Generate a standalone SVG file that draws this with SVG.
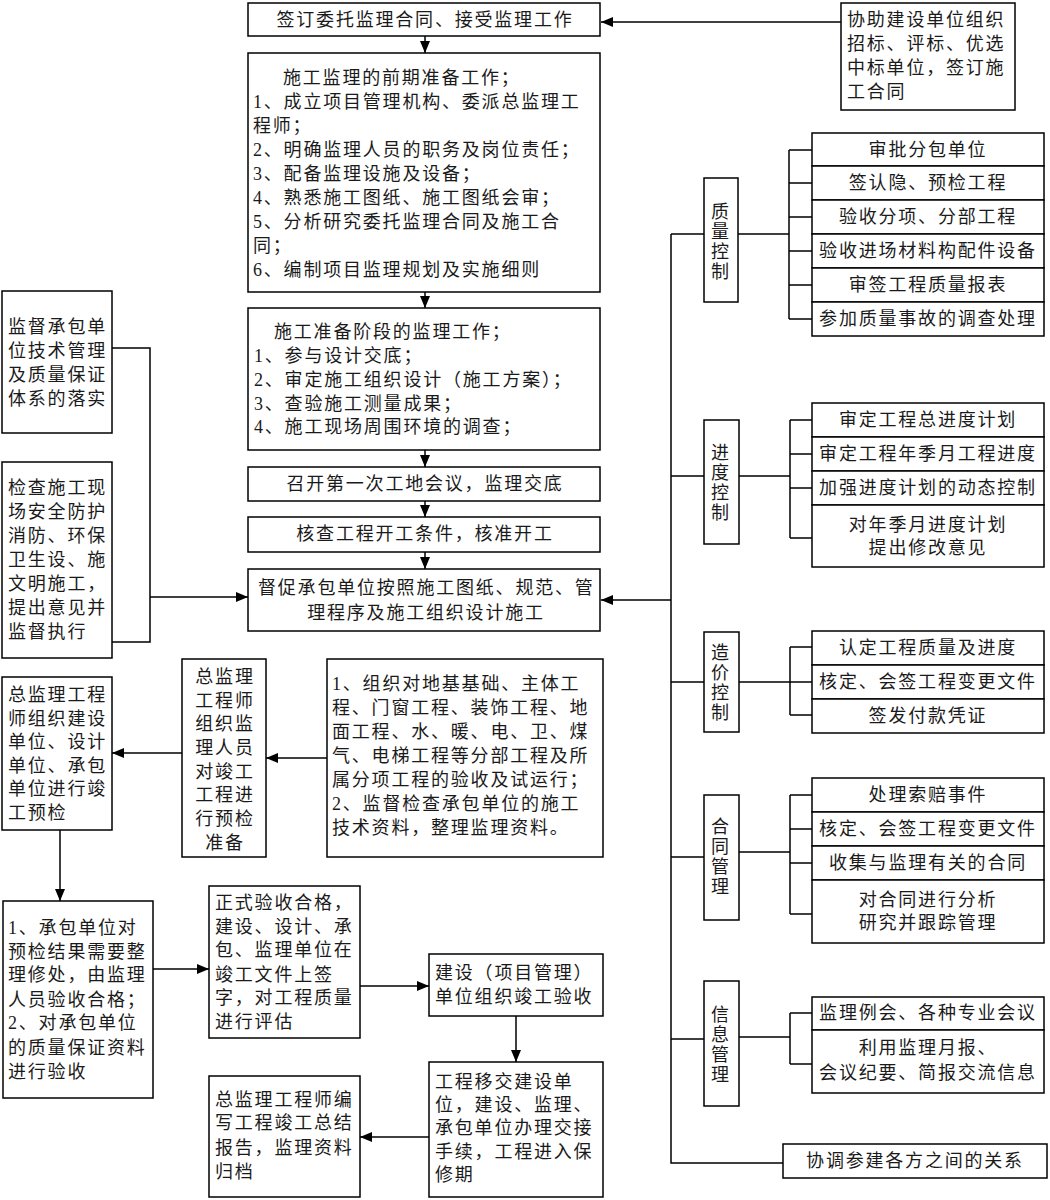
<svg xmlns="http://www.w3.org/2000/svg" width="1050" height="1200" viewBox="0 0 1050 1200">
<style>
.b{fill:#fff;stroke:#000;stroke-width:1.5}
text{font-family:"Liberation Serif","Noto Sans CJK SC",serif;font-size:18px;fill:#1a1a1a;letter-spacing:1.8px}
.c{text-anchor:middle}
.l{fill:none;stroke:#000;stroke-width:1.5}
</style>
<defs>
<marker id="a" markerUnits="userSpaceOnUse" markerWidth="12" markerHeight="10" refX="12" refY="5" orient="auto"><path d="M0,0L12,5L0,10z" fill="#000"/></marker>
</defs>
<rect width="1050" height="1200" fill="#fff"/>
<g id="connectors">
<path class="l" marker-end="url(#a)" d="M425,36V53"/>
<path class="l" marker-end="url(#a)" d="M841,22H601"/>
<path class="l" marker-end="url(#a)" d="M425,292V308"/>
<path class="l" marker-end="url(#a)" d="M425,450V467"/>
<path class="l" marker-end="url(#a)" d="M425,501V517"/>
<path class="l" marker-end="url(#a)" d="M425,552V569"/>
<path class="l" d="M112,348H150V642H112"/>
<path class="l" marker-end="url(#a)" d="M150,597H248"/>
<path class="l" marker-end="url(#a)" d="M671,600H601"/>
<path class="l" d="M671,234V1163H783"/>
<path class="l" d="M671,234H704M738,234H789M789,150V319M789,150H812M789,183H812M789,217H812M789,251H812M789,285H812M789,319H812"/>
<path class="l" d="M671,476H704M739,476H790M790,420V538M790,420H812M790,454H812M790,488H812M790,538H812"/>
<path class="l" d="M671,682H704M739,682H790M790,647V715M790,647H812M790,682H812M790,715H812"/>
<path class="l" d="M671,857H704M739,852H790M790,795V914M790,795H812M790,829H812M790,863H812M790,914H812"/>
<path class="l" d="M671,1039H704M739,1037H790M790,1013V1064M790,1013H812M790,1064H812"/>
<path class="l" marker-end="url(#a)" d="M182,753H112"/>
<path class="l" marker-end="url(#a)" d="M327,758H266"/>
<path class="l" marker-end="url(#a)" d="M60,830V901"/>
<path class="l" marker-end="url(#a)" d="M153,969H209"/>
<path class="l" marker-end="url(#a)" d="M360,986H429"/>
<path class="l" marker-end="url(#a)" d="M516,1016V1062"/>
<path class="l" marker-end="url(#a)" d="M429,1137H360"/>
</g>
<g id="n-sign"><rect class="b" x="248" y="3" width="352" height="33"/><text class="c" x="425" y="26">签订委托监理合同、接受监理工作</text></g>
<g id="n-prep"><rect class="b" x="248" y="53" width="352" height="239"/>
<text x="283" y="84">施工监理的前期准备工作；</text>
<text x="253" y="108">1、成立项目管理机构、委派总监理工</text>
<text x="253" y="132">程师；</text>
<text x="253" y="156">2、明确监理人员的职务及岗位责任；</text>
<text x="253" y="180">3、配备监理设施及设备；</text>
<text x="253" y="204">4、熟悉施工图纸、施工图纸会审；</text>
<text x="253" y="228">5、分析研究委托监理合同及施工合</text>
<text x="253" y="252">同；</text>
<text x="253" y="276">6、编制项目监理规划及实施细则</text></g>
<g id="n-assist"><rect class="b" x="841" y="3" width="174" height="107"/>
<text x="847" y="26">协助建设单位组织</text><text x="847" y="50">招标、评标、优选</text><text x="847" y="74">中标单位，签订施</text><text x="847" y="98">工合同</text></g>
<g id="n-stage"><rect class="b" x="248" y="308" width="352" height="142"/>
<text x="274" y="338">施工准备阶段的监理工作；</text>
<text x="254" y="362">1、参与设计交底；</text>
<text x="254" y="386">2、审定施工组织设计（施工方案）；</text>
<text x="254" y="410">3、查验施工测量成果；</text>
<text x="254" y="433">4、施工现场周围环境的调查；</text></g>
<g id="n-meet"><rect class="b" x="248" y="467" width="352" height="34"/><text class="c" x="425" y="490">召开第一次工地会议，监理交底</text></g>
<g id="n-check"><rect class="b" x="248" y="517" width="352" height="35"/><text class="c" x="425" y="540">核查工程开工条件，核准开工</text></g>
<g id="n-urge"><rect class="b" x="248" y="569" width="352" height="62"/>
<text x="258" y="594">督促承包单位按照施工图纸、规范、管</text><text class="c" x="426" y="619">理程序及施工组织设计施工</text></g>
<g id="n-left1"><rect class="b" x="2" y="291" width="110" height="142"/>
<text x="8" y="333">监督承包单</text><text x="8" y="357">位技术管理</text><text x="8" y="381">及质量保证</text><text x="8" y="405">体系的落实</text></g>
<g id="n-left2"><rect class="b" x="2" y="462" width="110" height="196"/>
<text x="8" y="494">检查施工现</text><text x="8" y="518">场安全防护</text><text x="8" y="542">消防、环保</text><text x="8" y="566">卫生设、施</text><text x="8" y="590">文明施工，</text><text x="8" y="614">提出意见并</text><text x="8" y="638">监督执行</text></g>
<g id="n-left3"><rect class="b" x="2" y="677" width="110" height="153"/>
<text x="8" y="701">总监理工程</text><text x="8" y="725">师组织建设</text><text x="8" y="748">单位、设计</text><text x="8" y="772">单位、承包</text><text x="8" y="795">单位进行竣</text><text x="8" y="819">工预检</text></g>
<g id="n-mid"><rect class="b" x="182" y="659" width="84" height="198"/>
<text class="c" x="225" y="683">总监理</text><text class="c" x="225" y="707">工程师</text><text class="c" x="225" y="730">组织监</text><text class="c" x="225" y="754">理人员</text><text class="c" x="225" y="778">对竣工</text><text class="c" x="225" y="801">工程进</text><text class="c" x="225" y="825">行预检</text><text class="c" x="225" y="849">准备</text></g>
<g id="n-org"><rect class="b" x="327" y="659" width="276" height="198"/>
<text x="332" y="690">1、组织对地基基础、主体工</text><text x="332" y="714">程、门窗工程、装饰工程、地</text><text x="332" y="738">面工程、水、暖、电、卫、煤</text><text x="332" y="762">气、电梯工程等分部工程及所</text><text x="332" y="786">属分项工程的验收及试运行；</text><text x="332" y="810">2、监督检查承包单位的施工</text><text x="332" y="834">技术资料，整理监理资料。</text></g>
<g id="n-l4"><rect class="b" x="3" y="901" width="150" height="197"/>
<text x="8" y="934">1、承包单位对</text><text x="8" y="958">预检结果需要整</text><text x="8" y="981">理修处，由监理</text><text x="8" y="1006">人员验收合格；</text><text x="8" y="1029">2、对承包单位</text><text x="8" y="1054">的质量保证资料</text><text x="8" y="1078">进行验收</text></g>
<g id="n-m4"><rect class="b" x="209" y="886" width="151" height="152"/>
<text x="215" y="909">正式验收合格，</text><text x="215" y="933">建设、设计、承</text><text x="215" y="956">包、监理单位在</text><text x="215" y="981">竣工文件上签</text><text x="215" y="1004">字，对工程质量</text><text x="215" y="1028">进行评估</text></g>
<g id="n-r4"><rect class="b" x="429" y="954" width="174" height="62"/>
<text x="435" y="979">建设（项目管理）</text><text x="435" y="1003">单位组织竣工验收</text></g>
<g id="n-r5"><rect class="b" x="429" y="1062" width="174" height="135"/>
<text x="435" y="1088">工程移交建设单</text><text x="435" y="1111">位，建设、监理、</text><text x="435" y="1134">承包单位办理交接</text><text x="435" y="1158">手续，工程进入保</text><text x="435" y="1181">修期</text></g>
<g id="n-m5"><rect class="b" x="209" y="1076" width="151" height="121"/>
<text x="215" y="1106">总监理工程师编</text><text x="215" y="1129">写工程竣工总结</text><text x="215" y="1154">报告，监理资料</text><text x="215" y="1178">归档</text></g>
<g id="n-quality"><rect class="b" x="704" y="178" width="34" height="124"/>
<text class="c" x="721" y="218">质</text><text class="c" x="721" y="238">量</text><text class="c" x="721" y="258">控</text><text class="c" x="721" y="278">制</text></g>
<g id="n-q-items">
<rect class="b" x="812" y="133" width="232" height="33"/><text class="c" x="928" y="156">审批分包单位</text>
<rect class="b" x="812" y="166" width="232" height="34"/><text class="c" x="928" y="189">签认隐、预检工程</text>
<rect class="b" x="812" y="200" width="232" height="34"/><text class="c" x="928" y="223">验收分项、分部工程</text>
<rect class="b" x="812" y="234" width="232" height="34"/><text class="c" x="928" y="257">验收进场材料构配件设备</text>
<rect class="b" x="812" y="268" width="232" height="34"/><text class="c" x="928" y="291">审签工程质量报表</text>
<rect class="b" x="812" y="302" width="232" height="34"/><text class="c" x="928" y="325">参加质量事故的调查处理</text></g>
<g id="n-progress"><rect class="b" x="704" y="420" width="35" height="124"/>
<text class="c" x="721" y="459">进</text><text class="c" x="721" y="479">度</text><text class="c" x="721" y="499">控</text><text class="c" x="721" y="519">制</text></g>
<g id="n-p-items">
<rect class="b" x="812" y="403" width="232" height="34"/><text class="c" x="928" y="426">审定工程总进度计划</text>
<rect class="b" x="812" y="437" width="232" height="34"/><text class="c" x="928" y="460">审定工程年季月工程进度</text>
<rect class="b" x="812" y="471" width="232" height="34"/><text class="c" x="928" y="494">加强进度计划的动态控制</text>
<rect class="b" x="812" y="505" width="232" height="62"/><text class="c" x="928" y="531">对年季月进度计划</text><text class="c" x="928" y="554">提出修改意见</text></g>
<g id="n-cost"><rect class="b" x="704" y="632" width="35" height="100"/>
<text class="c" x="721" y="659">造</text><text class="c" x="721" y="679">价</text><text class="c" x="721" y="699">控</text><text class="c" x="721" y="719">制</text></g>
<g id="n-c-items">
<rect class="b" x="812" y="631" width="232" height="34"/><text class="c" x="928" y="654">认定工程质量及进度</text>
<rect class="b" x="812" y="665" width="232" height="34"/><text class="c" x="928" y="688">核定、会签工程变更文件</text>
<rect class="b" x="812" y="699" width="232" height="34"/><text class="c" x="928" y="722">签发付款凭证</text></g>
<g id="n-contract"><rect class="b" x="704" y="795" width="35" height="125"/>
<text class="c" x="721" y="833">合</text><text class="c" x="721" y="853">同</text><text class="c" x="721" y="873">管</text><text class="c" x="721" y="893">理</text></g>
<g id="n-ct-items">
<rect class="b" x="812" y="778" width="232" height="34"/><text class="c" x="928" y="801">处理索赔事件</text>
<rect class="b" x="812" y="812" width="232" height="34"/><text class="c" x="928" y="835">核定、会签工程变更文件</text>
<rect class="b" x="812" y="846" width="232" height="34"/><text class="c" x="928" y="869">收集与监理有关的合同</text>
<rect class="b" x="812" y="880" width="232" height="63"/><text class="c" x="928" y="906">对合同进行分析</text><text class="c" x="928" y="929">研究并跟踪管理</text></g>
<g id="n-info"><rect class="b" x="704" y="981" width="35" height="125"/>
<text class="c" x="721" y="1021">信</text><text class="c" x="721" y="1041">息</text><text class="c" x="721" y="1061">管</text><text class="c" x="721" y="1081">理</text></g>
<g id="n-i-items">
<rect class="b" x="812" y="997" width="232" height="33"/><text class="c" x="928" y="1019">监理例会、各种专业会议</text>
<rect class="b" x="812" y="1030" width="232" height="63"/><text class="c" x="928" y="1054">利用监理月报、</text><text class="c" x="928" y="1079">会议纪要、简报交流信息</text></g>
<g id="n-coord"><rect class="b" x="783" y="1144" width="264" height="34"/><text class="c" x="915" y="1167">协调参建各方之间的关系</text></g>
</svg>
